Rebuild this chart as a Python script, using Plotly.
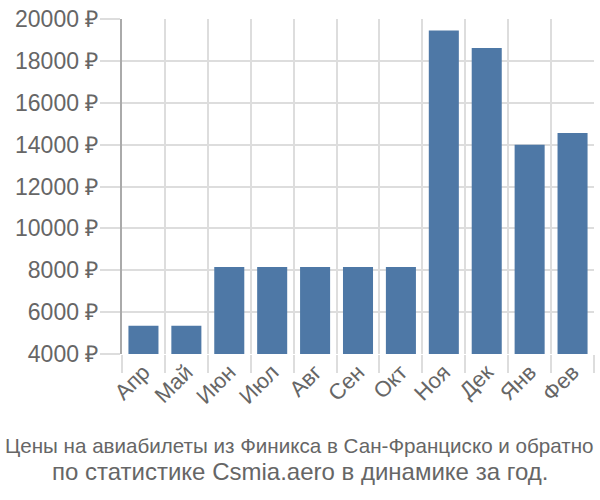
import plotly.graph_objects as go

months = ["Апр", "Май", "Июн", "Июл", "Авг", "Сен", "Окт", "Ноя", "Дек", "Янв", "Фев"]
prices = [5350, 5350, 8160, 8160, 8160, 8160, 8160, 19450, 18610, 13990, 14560]
y_ticks = [4000, 6000, 8000, 10000, 12000, 14000, 16000, 18000, 20000]
y_labels = [f"{v} ₽" for v in y_ticks]
title_lines = ["Цены на авиабилеты из Финикса в Сан-Франциско и обратно",
               "по статистике Csmia.aero в динамике за год."]

fig = go.Figure(go.Bar(x=months, y=prices, marker=dict(color="#4e78a6", line=dict(width=0))))

font = "Liberation Sans, Arial, sans-serif"
fig.update_layout(
    width=600, height=500,
    margin=dict(l=122, r=6, t=14, b=146),
    plot_bgcolor="white", paper_bgcolor="white",
    bargap=0.3,
    showlegend=False,
    font=dict(family=font, color="#666"),
)
fig.update_xaxes(
    type="category", tickson="boundaries", ticks="outside", ticklen=18,
    tickcolor="#ddd", tickwidth=1.5, showgrid=True, gridcolor="#ddd", gridwidth=1.5,
    tickangle=-45, tickfont=dict(size=22, color="#666"),
    showline=False, range=[-0.5, 10.5],
)
fig.update_yaxes(
    range=[4000, 20000], tickvals=y_ticks, ticktext=y_labels,
    ticks="outside", ticklen=20, tickcolor="#ddd", tickwidth=1.5,
    showgrid=True, gridcolor="#ddd", gridwidth=1.5,
    showline=True, linecolor="#aaa", linewidth=2,
    tickfont=dict(size=23, color="#666"), zeroline=False,
    ticklabelstandoff=-3,
)
for line, yp, sz in zip(title_lines, [-0.2735, -0.35], [20.6, 24]):
    fig.add_annotation(text=line, xref="paper", yref="paper",
                       x=0.377, y=yp, xanchor="center", yanchor="middle", showarrow=False,
                       font=dict(size=sz, color="#666", family=font))
fig.write_html("out.html")
